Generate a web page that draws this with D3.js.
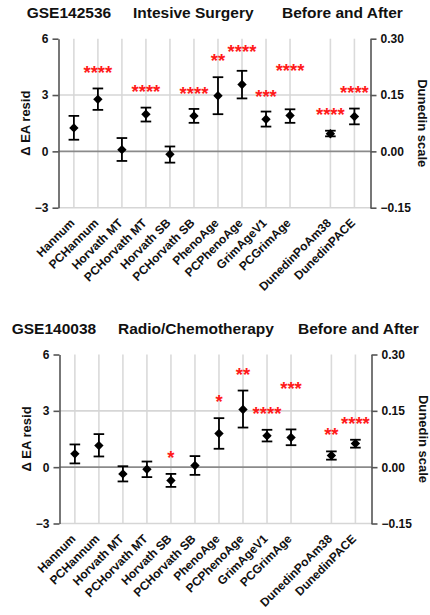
<!DOCTYPE html>
<html>
<head>
<meta charset="utf-8">
<script src="https://cdn.jsdelivr.net/npm/d3@7"></script>
<style>
  body { margin: 0; background: #fff; }
  svg { display: block; font-family: "Liberation Sans", Arial, sans-serif; }
</style>
</head>
<body>
<script>
// clock names, last two plotted on the Dunedin (right) scale
let clocks = ['Hannum', 'PCHannum', 'Horvath MT', 'PCHorvath MT', 'Horvath SB', 'PCHorvath SB',
              'PhenoAge', 'PCPhenoAge', 'GrimAgeV1', 'PCGrimAge', 'DunedinPoAm38', 'DunedinPACE'];
let onRight = [false, false, false, false, false, false, false, false, false, false, true, true];

let leftTicks = [-3, 0, 3, 6];
let rightTicks = [-0.15, 0, 0.15, 0.30];

// GSE142536 surgery (Dunedin clocks in Dunedin units)
let surgMean = [1.25, 2.77, 0.09, 1.98, -0.16, 1.89, 2.96, 3.56, 1.71, 1.91, 0.047, 0.093];
let surgLo   = [0.62, 2.21, -0.51, 1.59, -0.60, 1.52, 1.98, 2.82, 1.32, 1.52, 0.040, 0.072];
let surgHi   = [1.89, 3.35, 0.71, 2.33, 0.26, 2.26, 3.95, 4.29, 2.12, 2.24, 0.055, 0.114];
let surgStars = ['', '****', '', '****', '', '****', '**', '****', '***', '****', '****', '****'];
let surgStarAt = [0, 4.41, 0, 3.39, 0, 3.30, 5.03, 5.54, 3.16, 4.52, 2.15, 3.35];

// GSE140038 radio/chemotherapy
let chemoMean = [0.71, 1.15, -0.36, -0.11, -0.71, 0.09, 1.79, 3.07, 1.67, 1.58, 0.031, 0.063];
let chemoLo   = [0.20, 0.57, -0.76, -0.53, -1.05, -0.41, 0.98, 2.11, 1.37, 1.17, 0.020, 0.052];
let chemoHi   = [1.21, 1.76, 0.05, 0.30, -0.36, 0.59, 2.61, 4.08, 1.99, 2.01, 0.042, 0.073];
let chemoStars = ['', '', '', '', '*', '', '*', '**', '****', '***', '**', '****'];
let chemoStarAt = [0, 0, 0, 0, 0.71, 0, 3.71, 5.15, 3.05, 4.40, 1.93, 2.56];

let width = 430, height = 615;
let plotW = 312, plotH = 169;
let groupGap = 0.68;

let svg = d3.select('body').append('svg')
  .attr('width', width)
  .attr('height', height);

function drawPanel(opts) {
  let g = svg.append('g').attr('transform', `translate(${opts.left},${opts.top})`);

  let x = d3.scaleLinear().domain([-0.64, 12.35]).range([0, plotW]);
  let yL = d3.scaleLinear().domain([-3, 6]).range([plotH, 0]);
  let yR = d3.scaleLinear().domain([-0.15, 0.30]).range([plotH, 0]);

  let pos = i => x(i + (onRight[i] ? groupGap : 0));
  let yOf = (i, v) => onRight[i] ? yR(v) : yL(v);

  // title pieces
  opts.title.forEach(t => {
    svg.append('text')
      .attr('x', t[1]).attr('y', opts.titleY)
      .style('font-size', '15.5px').style('font-weight', 'bold')
      .attr('fill', '#111')
      .text(t[0]);
  });

  // vertical grid
  g.selectAll('.vgrid').data(clocks).enter().append('line')
    .attr('x1', (d, i) => pos(i)).attr('x2', (d, i) => pos(i))
    .attr('y1', 0).attr('y2', plotH)
    .attr('stroke', '#dadada').attr('stroke-width', 1.6);

  // horizontal grid
  g.selectAll('.hgrid').data([-3, 3]).enter().append('line')
    .attr('x1', 0).attr('x2', plotW)
    .attr('y1', d => yL(d)).attr('y2', d => yL(d))
    .attr('stroke', '#d6d6d6').attr('stroke-width', 1.6);

  g.append('line')
    .attr('x1', 0).attr('x2', plotW)
    .attr('y1', yL(0)).attr('y2', yL(0))
    .attr('stroke', '#8a8a8a').attr('stroke-width', 1.6);

  // axes
  let axL = g.append('g')
    .call(d3.axisLeft(yL).tickValues(leftTicks).tickSize(6).tickSizeOuter(0).tickPadding(4));
  let axR = g.append('g').attr('transform', `translate(${plotW},0)`)
    .call(d3.axisRight(yR).tickValues(rightTicks).tickSize(6).tickSizeOuter(0).tickPadding(4)
      .tickFormat(d3.format('.2f')));
  [axL, axR].forEach(a => {
    a.select('.domain').attr('stroke', '#555').attr('stroke-width', 1.6);
    a.selectAll('.tick line').attr('stroke', '#555').attr('stroke-width', 1.6);
    a.selectAll('.tick text')
      .style('font-size', '12px').style('font-weight', 'bold')
      .style('font-family', '"Liberation Sans", Arial, sans-serif')
      .attr('fill', '#111');
  });

  // axis titles
  svg.append('text')
    .attr('transform', `translate(${opts.left - 29},${opts.top + plotH / 2}) rotate(-90)`)
    .attr('text-anchor', 'middle')
    .style('font-size', '13px').style('font-weight', 'bold')
    .attr('fill', '#111')
    .text('\u0394 EA resid');
  svg.append('text')
    .attr('transform', `translate(${opts.left + plotW + 47},${opts.top + plotH / 2}) rotate(90)`)
    .attr('text-anchor', 'middle')
    .style('font-size', '13px').style('font-weight', 'bold')
    .attr('fill', '#111')
    .text('Dunedin scale');

  // category labels
  g.selectAll('.xlab').data(clocks).enter().append('text')
    .attr('transform', (d, i) => `translate(${pos(i) + 1.5},${plotH + 16}) rotate(-45)`)
    .attr('text-anchor', 'end')
    .style('font-size', '12px').style('font-weight', 'bold')
    .attr('fill', '#111')
    .text(d => d);

  // error bars
  let bars = g.selectAll('.bar').data(clocks).enter().append('g');
  bars.append('line')
    .attr('x1', (d, i) => pos(i)).attr('x2', (d, i) => pos(i))
    .attr('y1', (d, i) => yOf(i, opts.lo[i])).attr('y2', (d, i) => yOf(i, opts.hi[i]))
    .attr('stroke', '#000').attr('stroke-width', 1.8);
  ['lo', 'hi'].forEach(k => {
    bars.append('line')
      .attr('x1', (d, i) => pos(i) - 5.3).attr('x2', (d, i) => pos(i) + 5.3)
      .attr('y1', (d, i) => yOf(i, opts[k][i])).attr('y2', (d, i) => yOf(i, opts[k][i]))
      .attr('stroke', '#000').attr('stroke-width', 1.8);
  });
  bars.append('path')
    .attr('d', d3.symbol(d3.symbolSquare, 44))
    .attr('transform', (d, i) => `translate(${pos(i)},${yOf(i, opts.mean[i])}) rotate(45)`)
    .attr('fill', '#000');

  // significance stars
  g.selectAll('.star').data(opts.stars).enter().append('text')
    .attr('x', (d, i) => pos(i))
    .attr('y', (d, i) => yL(opts.starAt[i]) + 10.5)
    .attr('text-anchor', 'middle')
    .style('font-size', '18.5px').style('font-weight', 'bold')
    .attr('fill', '#ff1a1a')
    .text(d => d);
}

drawPanel({
  left: 58.5, top: 38.7, titleY: 18.3,
  title: [['GSE142536', 26.7], ['Intesive Surgery', 133], ['Before and After', 282]],
  mean: surgMean, lo: surgLo, hi: surgHi, stars: surgStars, starAt: surgStarAt
});

drawPanel({
  left: 59.5, top: 354.5, titleY: 334,
  title: [['GSE140038', 11.7], ['Radio/Chemotherapy', 118], ['Before and After', 298]],
  mean: chemoMean, lo: chemoLo, hi: chemoHi, stars: chemoStars, starAt: chemoStarAt
});
</script>
</body>
</html>
